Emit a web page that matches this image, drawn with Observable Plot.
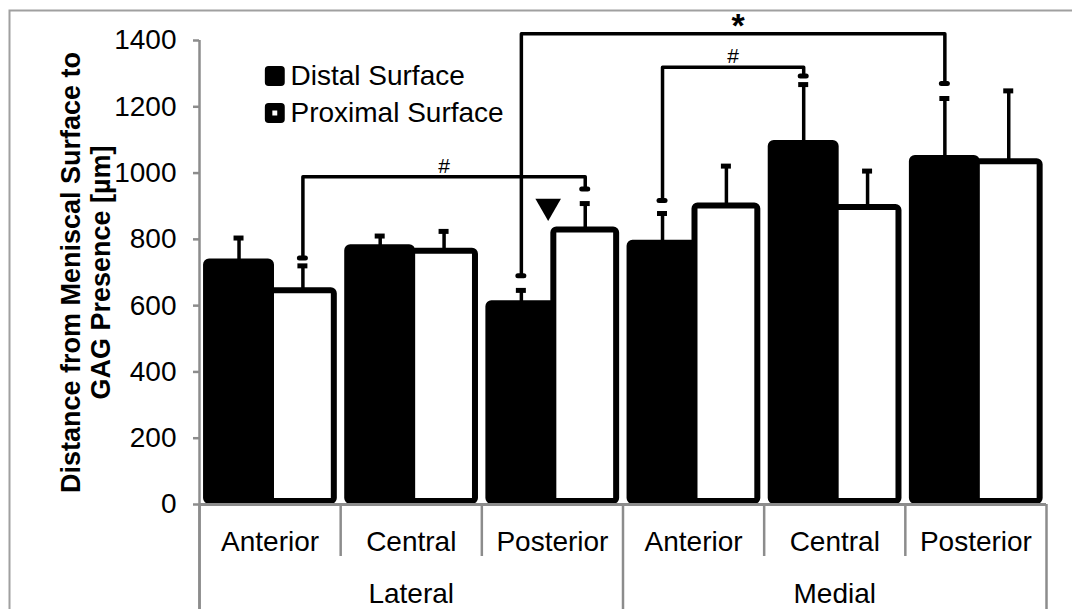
<!DOCTYPE html>
<html><head><meta charset="utf-8">
<script src="https://cdn.jsdelivr.net/npm/d3@7"></script>
<script src="https://cdn.jsdelivr.net/npm/@observablehq/plot@0.6"></script>
<style>body{margin:0;background:#fff}</style>
</head><body><div id="chart"></div>
<script>
// ---- data ----
const regions = ["Lateral", "Lateral", "Lateral", "Medial", "Medial", "Medial"];
const zones = ["Anterior", "Central", "Posterior", "Anterior", "Central", "Posterior"];
const regionNames = ["Lateral", "Medial"];
const seriesNames = ["Distal Surface", "Proximal Surface"];
const distalMean = [732, 775, 606, 788, 1089, 1044];
const distalSD = [72, 35, 40, 90, 178, 181];
const proximalMean = [645, 764, 828, 901, 896, 1034];
const proximalSD = [75, 60, 80, 120, 110, 214];
const yTicks = [0, 200, 400, 600, 800, 1000, 1200, 1400];
// significance brackets
const bracketLabel = ["#", "*", "#"];
const bracketFromGroup = [0, 2, 3];
const bracketFromSeries = [1, 0, 0];
const bracketToGroup = [2, 5, 4];
const bracketToSeries = [1, 0, 0];
const bracketFromEnd = [744, 690, 917];
const bracketToEnd = [952, 1270, 1293];
const bracketTop = [989, 1420, 1319];
// triangle marker
const triangleGroup = [2];
const triangleValue = [900];

// ---- layout ----
const W = 1072, H = 609, mL = 199, mR = 26, mT = 40, mB = 105;
const slot = [[0.05, 0.51], [0.51, 0.955]];
const gray = "#8c8c8c";
const pos = (g, s) => g + (slot[s][0] + slot[s][1]) / 2;

const means = [distalMean, proximalMean];
const sds = [distalSD, proximalSD];
const bars = [];
for (let s = 0; s < 2; s++) {
  zones.forEach((z, g) => {
    bars.push({g, s, region: regions[g], zone: z, series: seriesNames[s],
      x1: g + slot[s][0], x2: g + slot[s][1], xc: pos(g, s),
      mean: means[s][g], top: means[s][g] + sds[s][g]});
  });
}
const brackets = bracketLabel.map((label, i) => ({
  id: i, label,
  xa: pos(bracketFromGroup[i], bracketFromSeries[i]),
  xb: pos(bracketToGroup[i], bracketToSeries[i]),
  ya: bracketFromEnd[i], yb: bracketToEnd[i], top: bracketTop[i]
}));
const bracketPts = brackets.flatMap(b => [
  {id: b.id, x: b.xa, y: b.ya}, {id: b.id, x: b.xa, y: b.top},
  {id: b.id, x: b.xb, y: b.top}, {id: b.id, x: b.xb, y: b.yb}
]);
const bracketEnds = brackets.flatMap(b => [{x: b.xa, y: b.ya}, {x: b.xb, y: b.yb}]);
const cats = zones.map((z, i) => ({i, z}));
const inner = [1, 2, 4, 5];
const outer = [0, 3, 6];

// downward-pointing triangle symbol
const triangleDown = {
  draw(context, size) {
    const s = Math.sqrt(size * 4 / Math.sqrt(3));
    const h = s * Math.sqrt(3) / 2;
    context.moveTo(-s / 2, -h / 3);
    context.lineTo(s / 2, -h / 3);
    context.lineTo(0, 2 * h / 3);
    context.closePath();
  }
};

const chart = Plot.plot({
  width: W, height: H,
  marginLeft: mL, marginRight: mR, marginTop: mT, marginBottom: mB,
  x: {domain: [0, 6], axis: null},
  y: {domain: [0, 1400], axis: null},
  style: {fontFamily: "'Liberation Sans', Arial, sans-serif", fontSize: "28px", color: "black", background: "white"},
  marks: [
    Plot.frame({stroke: "#a0a0a0", strokeWidth: 2, insetLeft: -(mL - 9), insetTop: -(mT - 10), insetRight: -60, insetBottom: -150}),
    // category separators
    Plot.ruleX(inner, {x: d => d, stroke: gray, strokeWidth: 2.5, insetTop: H - mT - mB, insetBottom: -52}),
    Plot.ruleX(outer, {x: d => d, stroke: gray, strokeWidth: 2.5, insetTop: H - mT - mB, insetBottom: -mB}),
    // bars
    Plot.rect(bars.filter(d => d.s === 0), {x1: "x1", x2: "x2", y1: () => 0, y2: "mean", fill: "black", stroke: "black", strokeWidth: 6, strokeLinejoin: "round", rx: 3, insetBottom: 3}),
    Plot.rect(bars.filter(d => d.s === 1), {x1: "x1", x2: "x2", y1: () => 0, y2: "mean", fill: "white", stroke: "black", strokeWidth: 6, strokeLinejoin: "round", rx: 3, insetBottom: 3}),
    // error bars
    Plot.ruleX(bars, {x: "xc", y1: "mean", y2: "top", stroke: "black", strokeWidth: 3.5}),
    Plot.ruleY(bars, {y: "top", x1: "xc", x2: "xc", insetLeft: -5, insetRight: -5, stroke: "black", strokeWidth: 5}),
    // axes lines
    Plot.ruleY([0], {stroke: gray, strokeWidth: 3}),
    Plot.ruleX([0], {stroke: gray, strokeWidth: 2.5, insetBottom: -mB}),
    Plot.ruleY(yTicks, {y: d => d, x1: () => 0, x2: () => 0, insetLeft: -6, stroke: gray, strokeWidth: 2.5}),
    Plot.text(yTicks, {y: d => d, text: d => String(d), frameAnchor: "left", dx: -23, textAnchor: "end", lineAnchor: "middle", fontSize: 28}),
    // brackets
    Plot.line(bracketPts, {x: "x", y: "y", z: "id", stroke: "black", strokeWidth: 3.5, strokeLinejoin: "round"}),
    Plot.ruleY(bracketEnds, {y: "y", x1: "x", x2: "x", insetLeft: -3, insetRight: -3, stroke: "black", strokeWidth: 5, strokeLinecap: "round"}),
    Plot.text(brackets.filter(b => b.label === "#"), {x: d => (d.xa + d.xb) / 2, y: "top", text: "label", lineAnchor: "bottom", dy: -4, fontSize: 21}),
    Plot.text(brackets.filter(b => b.label === "*"), {x: d => (d.xa + d.xb) / 2, y: "top", text: "label", lineAnchor: "bottom", dx: 5, dy: 3, fontSize: 34, fontWeight: "bold"}),
    // triangle
    Plot.dot(triangleGroup.map((g, i) => ({g, v: triangleValue[i]})), {x: d => d.g + 0.47, y: "v", symbol: triangleDown, r: 9.5, fill: "black", stroke: "none"}),
    // legend
    Plot.dot([seriesNames[0]], {frameAnchor: "top-left", dx: 75.3, dy: 35.5, symbol: "square", r: 7, fill: "black", stroke: "black", strokeWidth: 7.5, strokeLinejoin: "round"}),
    Plot.dot([seriesNames[1]], {frameAnchor: "top-left", dx: 75.3, dy: 72.5, symbol: "square", r: 7, fill: "white", stroke: "black", strokeWidth: 7.5, strokeLinejoin: "round"}),
    Plot.text([seriesNames[0]], {frameAnchor: "top-left", dx: 91, dy: 35.5, text: d => d, textAnchor: "start", lineAnchor: "middle", fontSize: 28}),
    Plot.text([seriesNames[1]], {frameAnchor: "top-left", dx: 91, dy: 72.5, text: d => d, textAnchor: "start", lineAnchor: "middle", fontSize: 28}),
    // x category labels
    Plot.text(cats, {x: d => d.i + 0.5, text: "z", frameAnchor: "bottom", lineAnchor: "bottom", dy: 46, fontSize: 28}),
    Plot.text(regionNames, {x: (d, i) => i * 3 + 1.5, text: d => d, frameAnchor: "bottom", lineAnchor: "bottom", dy: 98, fontSize: 28}),
    // y title
    Plot.text(["Distance from Meniscal Surface to"], {frameAnchor: "left", text: d => d, rotate: -90, dx: -120, lineAnchor: "bottom", textAnchor: "middle", fontSize: 27, fontWeight: "bold"}),
    Plot.text(["GAG Presence [µm]"], {frameAnchor: "left", text: d => d, rotate: -90, dx: -90, lineAnchor: "bottom", textAnchor: "middle", fontSize: 27, fontWeight: "bold"})
  ]
});
document.getElementById("chart").appendChild(chart);
</script>
</body></html>
